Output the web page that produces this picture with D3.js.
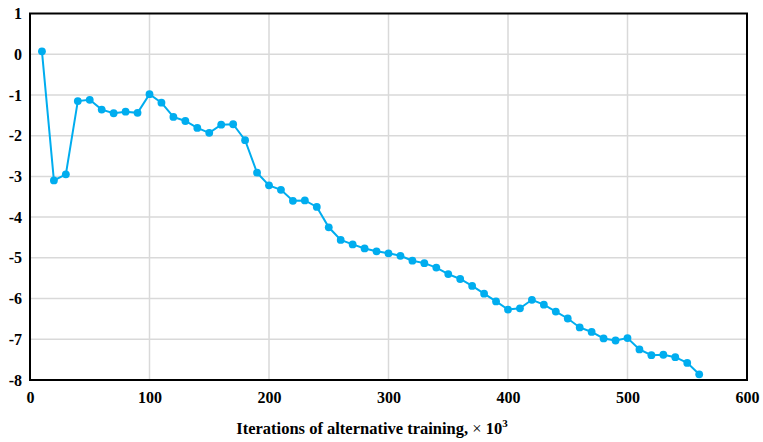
<!DOCTYPE html>
<html>
<head>
<meta charset="utf-8">
<script src="https://cdn.jsdelivr.net/npm/d3@7"></script>
<style>
body { margin: 0; background: #fff; }
text { font-family: "Liberation Serif", "Times New Roman", serif; font-weight: bold; }
</style>
</head>
<body>
<svg id="chart" width="763" height="442"></svg>
<script>
// iterations (x10^3) and values
var iters = [10,20,30,40,50,60,70,80,90,100,110,120,130,140,150,160,170,180,190,200,
	210,220,230,240,250,260,270,280,290,300,310,320,330,340,350,360,370,380,390,400,
	410,420,430,440,450,460,470,480,490,500,510,520,530,540,550,560];
var values = [0.07,-3.1,-2.95,-1.15,-1.12,-1.36,-1.45,-1.41,-1.44,-0.98,-1.19,-1.54,-1.64,-1.81,-1.93,-1.73,-1.72,-2.11,-2.91,-3.22,
	-3.33,-3.6,-3.59,-3.75,-4.25,-4.56,-4.67,-4.77,-4.84,-4.89,-4.95,-5.07,-5.13,-5.24,-5.4,-5.52,-5.69,-5.88,-6.07,-6.27,
	-6.24,-6.03,-6.15,-6.32,-6.49,-6.71,-6.82,-6.98,-7.03,-6.97,-7.25,-7.39,-7.38,-7.44,-7.58,-7.86];
var xTicks = [0,100,200,300,400,500,600];
var yTicks = [1,0,-1,-2,-3,-4,-5,-6,-7,-8];

var data = iters.map(function(d,i){ return {x:d, y:values[i]}; });

var pLeft = 30, pRight = 747, pTop = 13.5, pBottom = 380;
var svg = d3.select("#chart");

var xscale = d3.scaleLinear().domain([0,600]).range([pLeft,pRight]);
var yscale = d3.scaleLinear().domain([-8,1]).range([pBottom,pTop]);

// grid
svg.append("g").selectAll("line")
	.data(xTicks.slice(1,-1))
	.enter().append("line")
		.attr("x1",function(d){return xscale(d);})
		.attr("x2",function(d){return xscale(d);})
		.attr("y1",pTop).attr("y2",pBottom)
		.attr("stroke","#d9d9d9").attr("stroke-width",1.5);
svg.append("g").selectAll("line")
	.data(yTicks.slice(1,-1))
	.enter().append("line")
		.attr("x1",pLeft).attr("x2",pRight)
		.attr("y1",function(d){return yscale(d);})
		.attr("y2",function(d){return yscale(d);})
		.attr("stroke","#d9d9d9").attr("stroke-width",1.5);

// axes (labels only, box drawn separately)
var xaxis = d3.axisBottom(xscale).tickValues(xTicks).tickSize(0).tickPadding(12)
	.tickFormat(function(d){return String(d);});
var yaxis = d3.axisLeft(yscale).tickValues(yTicks).tickSize(0).tickPadding(8)
	.tickFormat(function(d){return String(d);});

var gx = svg.append("g").attr("transform","translate(0,"+pBottom+")").call(xaxis);
var gy = svg.append("g").attr("transform","translate("+pLeft+",0)").call(yaxis);
[gx,gy].forEach(function(g){
	g.select(".domain").remove();
	g.selectAll("text").attr("font-size",16).attr("fill","#000")
		.style("font-family","Liberation Serif, serif").style("font-weight","bold");
});

// plot frame
svg.append("rect")
	.attr("x",pLeft).attr("y",pTop)
	.attr("width",pRight-pLeft).attr("height",pBottom-pTop)
	.attr("fill","none").attr("stroke","#000").attr("stroke-width",2);

// series
var line = d3.line().x(function(d){return xscale(d.x);}).y(function(d){return yscale(d.y);});
svg.append("path")
	.datum(data)
	.attr("d",line)
	.attr("fill","none").attr("stroke","#00adef").attr("stroke-width",2);
svg.append("g").selectAll("circle")
	.data(data)
	.enter().append("circle")
		.attr("cx",function(d){return xscale(d.x);})
		.attr("cy",function(d){return yscale(d.y);})
		.attr("r",3.9)
		.attr("fill","#00adef");

// axis title
var title = svg.append("text")
	.attr("x",372).attr("y",434)
	.attr("text-anchor","middle")
	.attr("font-size",16.5);
title.append("tspan").text("Iterations of alternative training, ");
title.append("tspan").style("font-weight","normal").text("\u00d7 ");
title.append("tspan").text("10");
title.append("tspan").attr("dy",-7).attr("font-size",11).text("3");
</script>
</body>
</html>
